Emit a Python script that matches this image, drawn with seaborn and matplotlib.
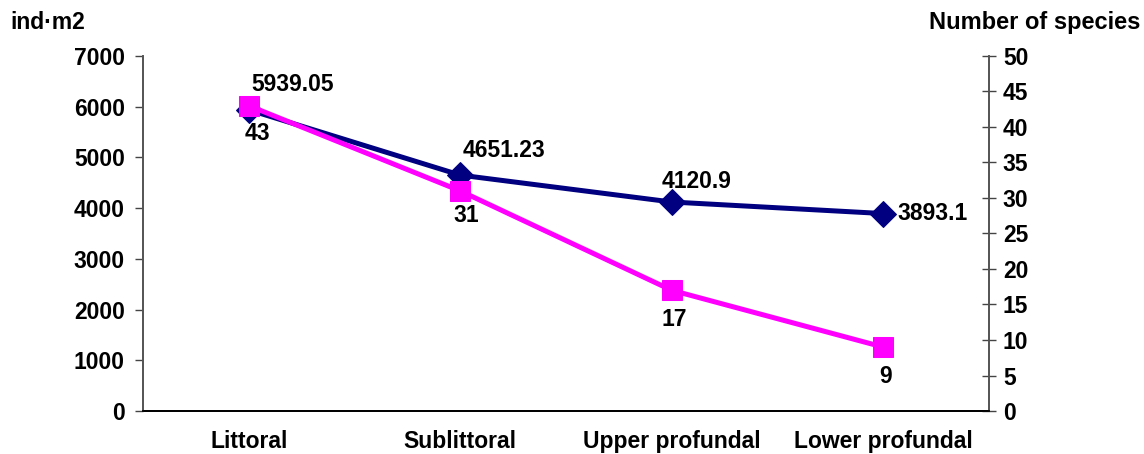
import matplotlib
matplotlib.use("Agg")
import matplotlib.pyplot as plt
import seaborn as sns
import pandas as pd
import numpy as np

zones = ["Littoral", "Sublittoral", "Upper profundal", "Lower profundal"]
density = [5939.05, 4651.23, 4120.9, 3893.1]
species = [43, 31, 17, 9]
density_labels = ["5939.05", "4651.23", "4120.9", "3893.1"]
species_labels = ["43", "31", "17", "9"]

sns.set_theme(style="white")
plt.rcParams["font.family"] = ["Liberation Sans", "DejaVu Sans"]
plt.rcParams["font.weight"] = "bold"
plt.rcParams["text.color"] = "black"
plt.rcParams["xtick.color"] = "black"
plt.rcParams["ytick.color"] = "black"

FS = 16.5
NAVY = "#000080"
MAGENTA = "#FF00FF"

df = pd.DataFrame({"pos": np.arange(len(zones)), "zone": zones,
                   "density": density, "species": species})

fig = plt.figure(figsize=(11.44, 4.54), dpi=100)
ax = fig.add_axes([0.125, 0.0947, 0.7395, 0.782])
ax2 = ax.twinx()

sns.lineplot(data=df, x="pos", y="density", ax=ax, color=NAVY, linewidth=3.6,
             marker="D", markersize=13, markeredgecolor=NAVY, zorder=3)
sns.lineplot(data=df, x="pos", y="species", ax=ax2, color=MAGENTA, linewidth=3.6,
             marker="s", markersize=14.5, markeredgecolor=MAGENTA, zorder=4)

ax.set_xlim(-0.5, len(zones) - 0.5)
ax.set_ylim(0, 7000)
ax2.set_ylim(0, 50)
ax.set_yticks(np.arange(0, 7001, 1000))
ax2.set_yticks(np.arange(0, 51, 5))

# category labels centered, tick marks on the boundaries
ax.set_xticks(np.arange(len(zones)))
ax.set_xticklabels(zones, fontsize=FS, fontweight="bold")
ax.set_xticks(np.arange(-0.5, len(zones)), minor=True)
ax.tick_params(axis="x", which="major", length=0, pad=14)
ax.tick_params(axis="x", which="minor", length=6, width=1, direction="out", color="#444444")
ax.tick_params(axis="y", length=6, width=1, direction="out", color="#444444",
               labelsize=FS, pad=7)
ax2.tick_params(axis="y", length=10, width=1, direction="inout", color="#444444",
                labelsize=FS, pad=5)
for lab in ax.get_yticklabels() + ax2.get_yticklabels() + ax.get_xticklabels():
    lab.set_fontweight("bold")
    lab.set_color("black")

ax.set_xlabel("")
ax.set_ylabel("")
ax2.set_ylabel("")
for a in (ax, ax2):
    a.spines["top"].set_visible(False)
    a.spines["left"].set_color("#555555")
    a.spines["right"].set_color("#555555")
    a.spines["bottom"].set_color("black")
    a.spines["bottom"].set_linewidth(1.3)
    a.grid(False)

# data labels
d_off = [(2, 18), (2, 18), (-7, 15), (10, 0)]
d_ha = ["left", "left", "left", "left"]
for i, (v, t) in enumerate(zip(density, density_labels)):
    ax.annotate(t, (i, v), xytext=d_off[i], textcoords="offset points",
                ha=d_ha[i], va="center", fontsize=FS, fontweight="bold", color="black")
s_off = [(6, -20), (4, -18), (2, -21), (2, -21)]
for i, (v, t) in enumerate(zip(species, species_labels)):
    ax2.annotate(t, (i, v), xytext=s_off[i], textcoords="offset points",
                 ha="center", va="center", fontsize=FS, fontweight="bold", color="black")

fig.text(0.009, 0.95, "ind·m2", fontsize=FS, fontweight="bold", ha="left", va="center")
fig.text(0.997, 0.95, "Number of species", fontsize=17, fontweight="bold",
         ha="right", va="center")

fig.savefig("out.png", dpi=100)
